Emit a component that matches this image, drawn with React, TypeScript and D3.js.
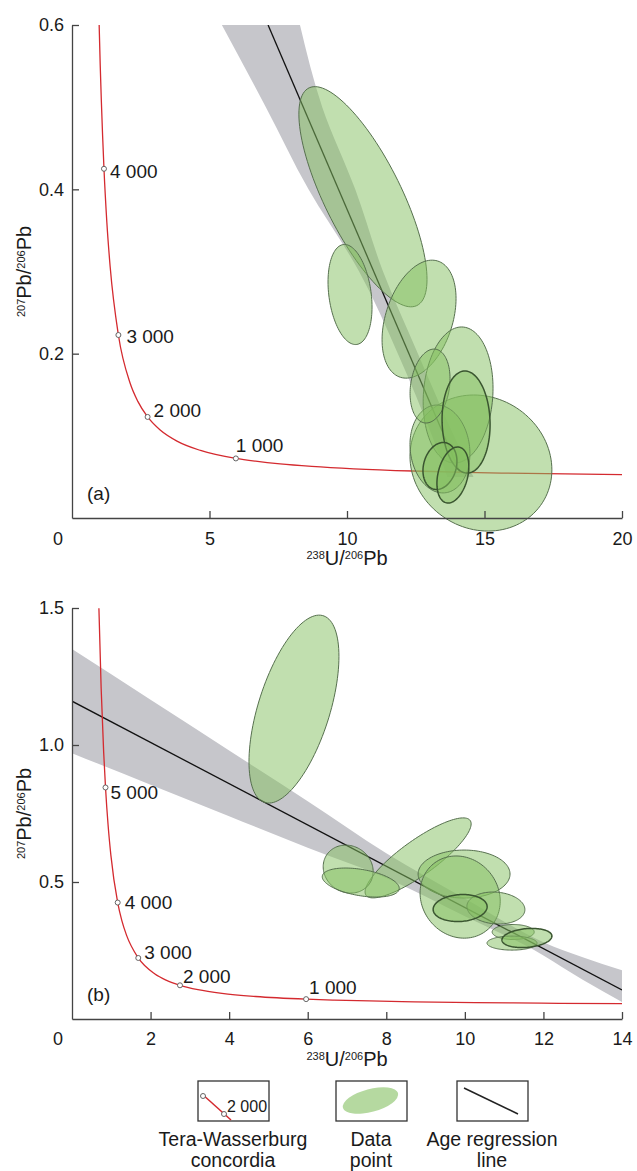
import React, { useEffect, useRef } from 'react';
import * as d3 from 'd3';

// Tera-Wasserburg concordia (238U/206Pb vs 207Pb/206Pb)
const concordiaX = [0.685, 0.742, 0.806, 0.853, 0.918, 0.990, 1.163, 1.267, 1.387, 1.687, 2.111, 2.394, 2.749, 3.206, 3.817, 4.673, 5.959, 6.675, 7.568, 8.718, 10.25, 12.40, 14.16, 15.62, 20.99];
const concordiaY = [1.499, 1.207, 0.974, 0.845, 0.709, 0.597, 0.425, 0.360, 0.306, 0.2227, 0.1643, 0.1419, 0.1230, 0.1071, 0.0936, 0.0822, 0.0725, 0.0691, 0.0658, 0.0628, 0.0599, 0.0572, 0.0557, 0.0547, 0.0523];

// Age marks on the concordia (Ma)
const markerLabels = ['1 000', '2 000', '3 000', '4 000', '5 000'];
const markerX = [5.959, 2.749, 1.687, 1.163, 0.853];
const markerY = [0.0725, 0.1230, 0.2227, 0.425, 0.845];

// Panel (a)
const xTicksA = [5, 10, 15, 20];
const yTicksA = [0.2, 0.4, 0.6];
const lineAX = [7.13, 14.1];
const lineAY = [0.6, 0.0557];
const bandAY = [0.6, 0.5, 0.4, 0.3, 0.2, 0.1, 0.05];
const bandALeft = [5.45, 7.05, 8.6, 10.44, 11.85, 13.09, 13.65];
const bandARight = [8.29, 9.1, 10.3, 11.31, 12.58, 13.89, 14.6];
const ellAX = [10.58, 10.11, 12.62, 14.87, 14.04, 13.38, 13.02, 14.33, 13.38, 13.85];
const ellAY = [0.391, 0.272, 0.242, 0.0669, 0.1497, 0.084, 0.1606, 0.1168, 0.0633, 0.0523];
const ellASx = [2.33, 0.80, 1.345, 2.58, 1.27, 1.09, 0.727, 0.873, 0.618, 0.58];
const ellASy = [0.134, 0.0609, 0.0718, 0.0828, 0.0828, 0.0535, 0.045, 0.0621, 0.0286, 0.0341];
const ellARho = [-0.75, -0.25, 0.35, -0.1, 0.1, -0.1, 0.2, -0.05, 0.2, 0.3];

// Panel (b)
const xTicksB = [2, 4, 6, 8, 10, 12, 14];
const yTicksB = [0.5, 1.0, 1.5];
const lineBX = [0, 14];
const lineBY = [1.16, 0.106];
const bandBX = [0, 2, 4, 6, 8, 10, 12, 13, 14];
const bandBUpper = [1.35, 1.165, 0.98, 0.795, 0.605, 0.44, 0.28, 0.225, 0.178];
const bandBLower = [0.97, 0.855, 0.74, 0.625, 0.515, 0.375, 0.232, 0.143, 0.062];
const ellBX = [5.65, 8.81, 7.03, 7.35, 9.98, 9.88, 10.79, 9.88, 11.23, 11.2, 11.58];
const ellBY = [1.131, 0.588, 0.547, 0.498, 0.529, 0.445, 0.405, 0.405, 0.3175, 0.277, 0.2956];
const ellBSx = [1.145, 1.35, 0.636, 0.98, 1.17, 1.02, 0.738, 0.687, 0.535, 0.636, 0.636];
const ellBSy = [0.343, 0.146, 0.0876, 0.053, 0.0876, 0.150, 0.0584, 0.0493, 0.0274, 0.0256, 0.035];
const ellBRho = [0.56, 0.85, -0.1, -0.4, 0.0, -0.1, -0.1, 0.1, 0.0, 0.0, 0.2];

const FONT = '"Liberation Sans", Arial, Helvetica, sans-serif';
const TEXT = '#1a1a1a';
const AXIS = '#444';
const RED = '#d42a2f';
const GREEN = '#84c060';
const BAND = '#c6c6cb';

function ellipsePath(cx, cy, sx, sy, rho, x, y) {
  const k = Math.sqrt(1 - rho * rho);
  const pts = d3.range(0, 2 * Math.PI, Math.PI / 60).map(t => [
    x(cx + sx * Math.cos(t)),
    y(cy + sy * (rho * Math.cos(t) + k * Math.sin(t))),
  ]);
  return d3.line().curve(d3.curveLinearClosed)(pts);
}

function ratioLabel(sel, sup1, main1, sup2, main2, size) {
  const sup = Math.round(size * 0.56);
  sel.append('tspan').attr('font-size', sup).attr('dy', -6).text(sup1);
  sel.append('tspan').attr('font-size', size).attr('dy', 6).text(main1);
  sel.append('tspan').attr('font-size', sup).attr('dy', -6).text(sup2);
  sel.append('tspan').attr('font-size', size).attr('dy', 6).text(main2);
}

function drawPanel(svg, p) {
  const x = d3.scaleLinear().domain(p.xDomain).range([p.left, p.right]);
  const y = d3.scaleLinear().domain(p.yDomain).range([p.bottom, p.top]);

  const clipId = `clip-${p.tag}`;
  svg.append('clipPath').attr('id', clipId)
    .append('rect')
      .attr('x', p.left).attr('y', p.top)
      .attr('width', p.right - p.left).attr('height', p.bottom - p.top);

  const plot = svg.append('g').attr('clip-path', `url(#${clipId})`);

  // Confidence band
  if (p.bandVertical) {
    const area = d3.area()
      .curve(d3.curveMonotoneY)
      .y(d => y(d[0]))
      .x0(d => x(d[1]))
      .x1(d => x(d[2]));
    plot.append('path')
      .attr('d', area(d3.zip(p.bandY, p.bandLeft, p.bandRight)))
      .attr('fill', BAND);
  } else {
    const area = d3.area()
      .curve(d3.curveMonotoneX)
      .x(d => x(d[0]))
      .y0(d => y(d[1]))
      .y1(d => y(d[2]));
    plot.append('path')
      .attr('d', area(d3.zip(p.bandX, p.bandLower, p.bandUpper)))
      .attr('fill', BAND);
  }

  // Regression line
  plot.append('path')
    .attr('d', d3.line().x(d => x(d[0])).y(d => y(d[1]))(d3.zip(p.lineX, p.lineY)))
    .attr('stroke', '#111')
    .attr('stroke-width', 1.3)
    .attr('fill', 'none');

  // Concordia
  const conc = d3.zip(concordiaX, concordiaY);
  plot.append('path')
    .attr('d', d3.line().curve(d3.curveMonotoneX).x(d => x(d[0])).y(d => y(d[1]))(conc))
    .attr('stroke', RED)
    .attr('stroke-width', 1.3)
    .attr('fill', 'none');

  // Error ellipses
  const eg = svg.append('g');
  p.ellX.forEach((cx, i) => {
    const thick = p.thick.includes(i);
    eg.append('path')
      .attr('d', ellipsePath(cx, p.ellY[i], p.ellSx[i], p.ellSy[i], p.ellRho[i], x, y))
      .attr('fill', GREEN)
      .attr('fill-opacity', 0.5)
      .attr('stroke', thick ? '#3a5530' : '#56704e')
      .attr('stroke-width', thick ? 1.5 : 1);
  });

  // Age marks
  markerLabels.forEach((label, i) => {
    if (markerY[i] > p.yDomain[1]) return;
    const mx = x(markerX[i]);
    const my = y(markerY[i]);
    const off = p.labelOffsets[i];
    svg.append('circle')
      .attr('cx', mx).attr('cy', my).attr('r', 2.5)
      .attr('fill', 'white')
      .attr('stroke', '#555')
      .attr('stroke-width', 0.9);
    svg.append('text')
      .attr('x', mx + off[0])
      .attr('y', my + off[1])
      .attr('dy', '0.35em')
      .attr('font-family', FONT)
      .attr('font-size', 19)
      .attr('fill', TEXT)
      .text(label);
  });

  // Add x-axis
  const xAxis = svg.append('g')
    .attr('transform', `translate(0, ${p.bottom})`)
    .call(d3.axisBottom(x)
      .tickValues(p.xTicks)
      .tickSizeInner(-7)
      .tickSizeOuter(0)
      .tickPadding(p.xPad)
      .tickFormat(d3.format('d')));

  // Add y-axis
  const yAxis = svg.append('g')
    .attr('transform', `translate(${p.left}, 0)`)
    .call(d3.axisLeft(y)
      .tickValues(p.yTicks)
      .tickSizeInner(-7)
      .tickSizeOuter(0)
      .tickPadding(8)
      .tickFormat(d3.format('.1f')));

  [xAxis, yAxis].forEach(a => {
    a.attr('font-family', FONT).attr('font-size', 18);
    a.selectAll('path, line').attr('stroke', AXIS).attr('stroke-width', 1.3);
    a.selectAll('text').attr('fill', TEXT);
  });

  // Shared origin label
  svg.append('text')
    .attr('x', p.left - 14)
    .attr('y', p.bottom + p.xPad)
    .attr('dy', '0.71em')
    .attr('text-anchor', 'middle')
    .attr('font-family', FONT)
    .attr('font-size', 18)
    .attr('fill', TEXT)
    .text('0');

  // Panel tag
  svg.append('text')
    .attr('x', p.left + 15)
    .attr('y', p.bottom - 25)
    .attr('dy', '0.35em')
    .attr('font-family', FONT)
    .attr('font-size', 19)
    .attr('fill', TEXT)
    .text(`(${p.tag})`);

  // Axis titles
  const xt = svg.append('text')
    .attr('x', (p.left + p.right) / 2)
    .attr('y', p.bottom + 47)
    .attr('text-anchor', 'middle')
    .attr('font-family', FONT)
    .attr('fill', TEXT);
  ratioLabel(xt, '238', 'U/', '206', 'Pb', 20);

  const yt = svg.append('text')
    .attr('transform', `translate(31, ${(p.top + p.bottom) / 2}) rotate(-90)`)
    .attr('text-anchor', 'middle')
    .attr('font-family', FONT)
    .attr('fill', TEXT);
  ratioLabel(yt, '207', 'Pb/', '206', 'Pb', 20);
}

function drawLegend(svg) {
  const boxes = [198, 336, 457];
  boxes.forEach(bx => {
    svg.append('rect')
      .attr('x', bx).attr('y', 1081)
      .attr('width', 71).attr('height', 40)
      .attr('fill', 'white')
      .attr('stroke', '#333')
      .attr('stroke-width', 1.3);
  });

  // concordia swatch
  svg.append('line')
    .attr('x1', 202).attr('y1', 1094).attr('x2', 231).attr('y2', 1120)
    .attr('stroke', RED).attr('stroke-width', 1.5);
  [[203, 1096], [224, 1114]].forEach(([cx, cy]) => {
    svg.append('circle')
      .attr('cx', cx).attr('cy', cy).attr('r', 2.5)
      .attr('fill', 'white').attr('stroke', '#555').attr('stroke-width', 0.9);
  });
  svg.append('text')
    .attr('x', 227).attr('y', 1106).attr('dy', '0.35em')
    .attr('font-family', FONT).attr('font-size', 16).attr('fill', TEXT)
    .text('2 000');

  // data point swatch
  svg.append('ellipse')
    .attr('cx', 0).attr('cy', 0).attr('rx', 28.5).attr('ry', 11.5)
    .attr('transform', 'translate(370.5, 1100.5) rotate(-15)')
    .attr('fill', GREEN).attr('fill-opacity', 0.6);

  // regression swatch
  svg.append('line')
    .attr('x1', 464).attr('y1', 1088).attr('x2', 518).attr('y2', 1114)
    .attr('stroke', '#222').attr('stroke-width', 1.5);

  const labels = [
    [233, ['Tera-Wasserburg', 'concordia']],
    [371, ['Data', 'point']],
    [492, ['Age regression', 'line']],
  ];
  labels.forEach(([cx, lines]) => {
    lines.forEach((t, i) => {
      svg.append('text')
        .attr('x', cx).attr('y', 1139 + i * 21).attr('dy', '0.35em')
        .attr('text-anchor', 'middle')
        .attr('font-family', FONT).attr('font-size', 19.5).attr('fill', TEXT)
        .text(t);
    });
  });
}

export default function App() {
  const ref = useRef(null);

  useEffect(() => {
    const svg = d3.select(ref.current);
    svg.selectAll('*').remove();

    drawPanel(svg, {
      tag: 'a',
      left: 72, right: 622, top: 25, bottom: 518,
      xDomain: [0, 20], yDomain: [0, 0.6],
      xTicks: xTicksA, yTicks: yTicksA, xPad: 14,
      lineX: lineAX, lineY: lineAY,
      bandVertical: true, bandY: bandAY, bandLeft: bandALeft, bandRight: bandARight,
      ellX: ellAX, ellY: ellAY, ellSx: ellASx, ellSy: ellASy, ellRho: ellARho,
      thick: [7, 8, 9],
      labelOffsets: [[0, -13], [6, -7], [8, 1], [6, 3], [5, 5]],
    });

    drawPanel(svg, {
      tag: 'b',
      left: 72, right: 622, top: 608, bottom: 1019,
      xDomain: [0, 14], yDomain: [0, 1.5],
      xTicks: xTicksB, yTicks: yTicksB, xPad: 13,
      lineX: lineBX, lineY: lineBY,
      bandVertical: false, bandX: bandBX, bandUpper: bandBUpper, bandLower: bandBLower,
      ellX: ellBX, ellY: ellBY, ellSx: ellBSx, ellSy: ellBSy, ellRho: ellBRho,
      thick: [7, 10],
      labelOffsets: [[3, -12], [3, -9], [6, -6], [7, 0], [5, 5]],
    });

    drawLegend(svg);
  }, []);

  return (
    <svg
      ref={ref}
      width={637}
      height={1171}
      style={{ position: 'absolute', left: 0, top: 0, background: 'white' }}
    />
  );
}
